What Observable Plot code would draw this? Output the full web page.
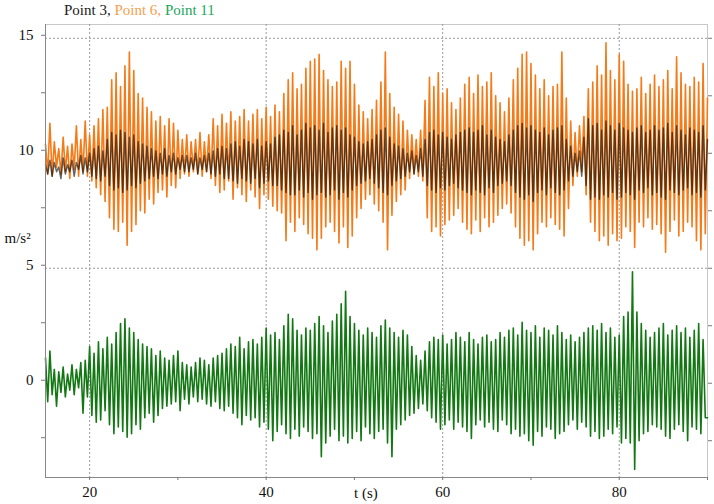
<!DOCTYPE html>
<html><head><meta charset="utf-8">
<script src="https://cdn.jsdelivr.net/npm/d3@7"></script>
<script src="https://cdn.jsdelivr.net/npm/@observablehq/plot@0.6"></script>
<style>
body{margin:0;background:#fff;}
#wrap{position:relative;width:714px;height:504px;font-family:"Liberation Serif","DejaVu Serif",serif;}
#title{position:absolute;left:64px;top:2px;font-size:15px;white-space:nowrap;}
#chart{position:absolute;left:0;top:0;}
</style></head><body>
<div id="wrap"><div id="chart"></div><div id="title"><span style="color:#1a1a1a">Point 3,</span> <span style="color:#f4a050">Point 6,</span> <span style="color:#22a65a">Point 11</span></div></div>
<script>
// sampling: first sample time and interval (s)
const t0 = 15, dt = 0.25;

// Point 3 (black), m/s^2, one row per second
const point3 = [
9.5,9.1,9.7,9.0, 9.6,9.2,9.4,8.9, 9.8,9.1,9.5,9.2, 9.7,9.0,9.6,9.3, 9.9,9.1,9.8,9.2,
10.0,9.0,10.2,8.9, 10.3,8.8,10.1,9.0, 10.6,8.6,10.9,8.4, 10.8,8.5,11.0,8.3, 10.9,8.4,10.7,8.6,
10.8,8.5,10.5,8.7, 10.4,8.8,10.3,8.9, 10.2,9.0,10.1,8.9, 10.0,9.1,10.2,9.0, 9.9,9.2,10.0,9.1,
9.8,9.3,9.9,9.2, 9.9,9.2,9.8,9.3, 10.0,9.1,9.8,9.3, 9.9,9.2,10.0,9.1, 10.1,9.0,10.2,9.1,
10.3,8.9,10.2,8.9, 10.4,8.8,10.5,8.7, 10.3,8.9,10.6,8.8, 10.5,8.7,10.4,8.9, 10.6,8.5,10.3,8.7,
10.5,8.8,10.4,8.6, 10.7,8.6,10.8,8.4, 11.0,8.3,10.9,8.2, 11.2,8.2,10.8,8.4, 11.0,8.1,11.3,8.3,
11.1,8.0,11.2,8.2, 11.0,8.3,11.3,8.1, 10.9,8.2,11.1,8.4, 11.2,8.0,11.0,8.3, 11.1,8.1,10.8,8.4,
10.7,8.6,10.5,8.7, 10.4,8.8,10.5,8.9, 10.6,8.7,10.8,8.5, 11.0,8.3,11.1,8.2, 10.7,8.6,10.4,8.8,
10.3,8.9,10.2,9.0, 10.0,9.2,10.1,9.1, 9.9,9.2,10.2,9.0, 10.6,8.6,10.9,8.4, 11.0,8.3,10.8,8.5,
10.9,8.4,10.7,8.6, 10.6,8.7,10.8,8.5, 10.9,8.4,11.0,8.3, 11.1,8.2,10.9,8.4, 11.0,8.3,11.2,8.2,
10.8,8.5,11.0,8.3, 10.7,8.6,10.6,8.7, 10.5,8.8,10.8,8.6, 11.0,8.3,11.2,8.1, 11.3,8.0,11.1,8.2,
11.2,7.9,11.0,8.3, 10.9,8.4,11.1,8.2, 10.8,8.5,11.0,8.3, 11.1,8.2,11.2,8.4, 10.6,8.8,10.3,9.0,
10.0,9.2,10.1,9.0, 10.7,8.6,11.5,8.0, 11.2,8.1,11.3,8.0, 11.0,8.2,11.4,8.1, 11.2,8.3,11.0,8.0,
11.3,8.1,11.1,8.3, 11.0,8.2,10.9,8.0, 11.1,8.4,11.2,8.3, 10.9,8.5,11.0,8.2, 11.2,8.3,11.0,8.1,
11.1,8.0,11.3,8.4, 10.9,8.3,11.2,8.2, 11.0,8.4,10.8,8.5, 11.1,8.2,11.0,8.3, 10.9,8.1,11.2,8.4,
10.6
];

// Point 6 (orange), m/s^2
const point6 = [
10.4,9.1,11.3,9.0, 10.5,9.4,10.2,9.1, 10.7,9.2,10.3,8.9, 10.4,9.3,11.2,9.0, 10.6,9.2,11.4,9.0,
10.8,8.8,11.2,8.5, 11.5,8.2,11.9,7.9, 12.0,7.2,13.2,6.7, 13.5,6.6,12.9,7.0, 13.8,6.0,14.4,6.6,
13.6,6.9,12.6,7.5, 12.4,7.4,12.0,8.0, 11.8,7.8,11.4,8.3, 11.6,8.4,11.2,8.1, 11.5,8.6,11.3,8.5,
11.0,8.9,10.6,9.1, 10.8,9.0,10.5,9.2, 10.6,9.1,10.9,9.0, 10.5,9.2,10.8,8.9, 11.5,8.6,11.2,8.3,
11.7,8.4,11.3,8.8, 11.8,8.0,11.4,8.5, 11.6,8.2,11.9,7.9, 11.4,8.4,11.7,8.1, 11.9,7.6,11.5,8.2,
12.0,8.0,11.6,7.7, 12.1,7.5,11.8,7.4, 12.6,6.2,13.2,7.0, 13.5,6.6,12.8,7.2, 13.0,6.9,13.7,6.5,
14.0,6.3,14.1,5.8, 14.3,6.3,13.6,6.8, 13.2,7.0,12.9,6.6, 13.1,6.1,14.0,6.8, 13.7,5.9,14.0,6.4,
13.0,7.2,12.1,7.6, 11.8,8.0,11.5,8.2, 11.9,7.8,12.3,7.5, 13.1,7.0,14.4,5.8, 12.6,7.3,12.0,7.9,
11.7,8.2,11.4,8.4, 11.0,8.9,10.8,9.1, 10.6,9.0,11.0,8.8, 12.3,7.2,13.3,6.6, 12.9,6.8,13.5,6.4,
12.6,6.9,12.8,7.1, 12.2,7.3,11.9,7.6, 12.4,7.0,13.0,6.7, 13.3,6.5,12.6,7.1, 13.4,6.6,12.9,7.2,
13.1,6.8,13.5,7.0, 12.5,7.3,12.2,7.6, 11.8,7.8,12.4,7.4, 13.2,6.8,13.7,6.3, 14.3,6.0,14.4,6.2,
13.9,5.8,13.4,6.5, 12.8,7.0,13.2,6.8, 12.5,7.2,12.9,6.9, 13.0,6.7,14.4,6.4, 12.4,7.6,11.4,8.6,
10.9,9.0,11.2,9.2, 11.6,8.2,12.8,7.0, 13.1,6.6,13.8,6.2, 13.4,6.4,14.8,6.0, 13.6,6.5,13.2,6.2,
14.3,6.3,14.0,6.8, 13.0,6.6,12.7,5.9, 12.8,7.0,13.3,6.8, 12.6,7.2,13.0,6.7, 13.4,6.9,12.9,6.5,
13.2,5.7,13.6,6.6, 12.8,7.1,14.2,6.4, 13.5,6.6,13.0,7.0, 12.9,6.8,13.3,6.2, 13.1,5.8,13.9,6.5,
12.4
];

// Point 11 (green), m/s^2
const point11 = [
1.1,-0.8,1.4,-0.5, 0.6,-1.0,0.5,-0.4, 0.7,-0.6,0.4,-0.3, 0.8,-0.5,0.6,-0.2, 0.9,-1.3,1.0,-0.6,
1.6,-1.4,1.3,-1.7, 1.8,-1.6,1.5,-1.2, 2.0,-1.8,1.7,-2.2, 2.2,-1.9,2.6,-2.1, 2.8,-2.35,2.4,-2.2,
2.2,-1.8,1.9,-2.0, 1.7,-1.5,1.6,-1.3, 1.5,-1.7,1.2,-1.4, 1.4,-1.1,1.1,-1.0, 1.0,-0.9,1.2,-0.8,
1.4,-1.2,0.9,-0.7, 0.8,-0.9,0.7,-0.6, 0.9,-0.8,1.1,-0.7, 1.0,-0.9,0.8,-1.0, 1.1,-0.8,1.2,-1.1,
1.3,-1.2,1.5,-1.0, 1.7,-1.3,1.6,-1.5, 2.0,-1.8,1.5,-1.4, 1.8,-1.6,1.9,-1.5, 1.7,-1.9,2.0,-1.7,
2.4,-2.0,2.1,-2.5, 2.2,-2.1,1.9,-1.8, 2.5,-2.2,3.0,-2.4, 2.8,-2.0,2.3,-2.3, 2.1,-1.9,2.4,-2.1,
2.3,-2.4,2.6,-2.2, 2.9,-3.2,2.5,-2.6, 2.2,-2.3,2.7,-2.0, 3.0,-2.5,3.45,-2.3, 4.0,-2.6,2.9,-2.4,
2.6,-2.1,2.3,-2.5, 2.1,-1.9,2.4,-2.2, 2.2,-2.4,2.0,-2.1, 2.5,-2.0,2.75,-2.6, 2.4,-3.2,2.2,-2.0,
2.0,-1.8,2.3,-1.6, 2.1,-1.4,1.6,-1.3, 1.2,-1.1,1.0,-0.9, 1.4,-1.2,1.8,-1.5, 2.0,-1.7,1.9,-2.0,
2.1,-1.8,1.7,-1.6, 1.9,-2.0,2.2,-1.7, 2.0,-1.9,1.8,-2.1, 2.2,-2.4,1.9,-1.8, 1.7,-1.6,2.0,-1.9,
2.1,-1.7,1.8,-2.0, 1.9,-2.1,2.2,-1.6, 2.0,-1.8,2.3,-2.2, 2.4,-2.0,2.1,-2.3, 2.65,-2.2,2.3,-2.5,
2.2,-2.7,2.5,-2.1, 2.0,-2.3,2.4,-1.9, 2.3,-2.0,2.1,-2.4, 2.5,-2.2,2.2,-2.1, 1.9,-1.8,2.1,-1.6,
1.8,-2.0,2.0,-1.7, 2.2,-1.9,2.4,-2.3, 2.5,-2.1,2.3,-2.4, 2.6,-2.3,2.2,-2.0, 2.4,-2.2,2.0,-1.9,
2.1,-2.6,2.9,-2.4, 3.1,-2.6,4.85,-3.75, 3.1,-2.5,2.6,-2.2, 2.3,-2.1,2.0,-1.8, 2.2,-1.9,2.4,-2.0,
2.6,-2.3,2.1,-2.4, 2.3,-2.0,2.5,-1.8, 2.2,-2.1,2.4,-2.5, 2.0,-1.9,2.3,-2.0, 2.6,-2.2,1.9,-1.5,
-1.5
];

// axes
const yTicks = [-2.5, 0, 2.5, 5, 7.5, 10, 12.5, 15];
const yTickLabels = [0, 5, 10, 15];
const yGrid = [5, 15];
const xTicks = [20, 30, 40, 50, 60, 70, 80, 90];
const xTickLabels = [20, 40, 60, 80];
const xLabel = "t (s)";
const yLabel = "m/s²";

const rows = (arr) => arr.map((v, i) => ({t: t0 + i * dt, v}));
const FONT = '"Liberation Serif", "DejaVu Serif", serif';

const chart = Plot.plot({
  width: 714, height: 504,
  marginLeft: 45, marginRight: 7, marginTop: 24, marginBottom: 27,
  x: {domain: [15, 90]},
  y: {domain: [-4.1, 15.6]},
  style: {fontFamily: FONT, fontSize: "15px", background: "white", color: "#111"},
  marks: [
    Plot.frame({stroke: "#c8c8c8"}),
    Plot.ruleX(xTickLabels, {stroke: "#9a9a9a", strokeDasharray: "2,2"}),
    Plot.ruleY(yGrid, {stroke: "#9a9a9a", strokeDasharray: "2,2"}),
    Plot.line(rows(point6), {x: "t", y: "v", stroke: "#f57a18", strokeWidth: 1.6}),
    Plot.line(rows(point3), {x: "t", y: "v", stroke: "#000", strokeWidth: 1.5, strokeOpacity: 0.6}),
    Plot.line(rows(point11), {x: "t", y: "v", stroke: "#137813", strokeWidth: 1.6}),
    Plot.frame({anchor: "left", stroke: "#888"}),
    Plot.frame({anchor: "bottom", stroke: "#888"}),
    Plot.axisY(yTicks, {anchor: "left", tickSize: 4, tickPadding: 8, label: null, stroke: "#777",
      tickFormat: d => yTickLabels.includes(d) ? String(d) : "", dy: -3}),
    Plot.axisY(yTicks, {anchor: "right", tickSize: 4, label: null, stroke: "#777", tickFormat: () => ""}),
    Plot.axisX(xTicks, {anchor: "bottom", tickSize: 3, tickPadding: 6, label: null, stroke: "#777",
      tickFormat: d => xTickLabels.includes(d) ? String(d) : ""}),
    Plot.text([xLabel], {x: () => 51.3, frameAnchor: "bottom", dy: 16, fontSize: 15, lineAnchor: "middle"}),
    Plot.text([yLabel], {y: () => 6.3, frameAnchor: "left", dx: -41, textAnchor: "start", fontSize: 15})
  ]
});
document.getElementById("chart").appendChild(chart);
</script>
</body></html>
